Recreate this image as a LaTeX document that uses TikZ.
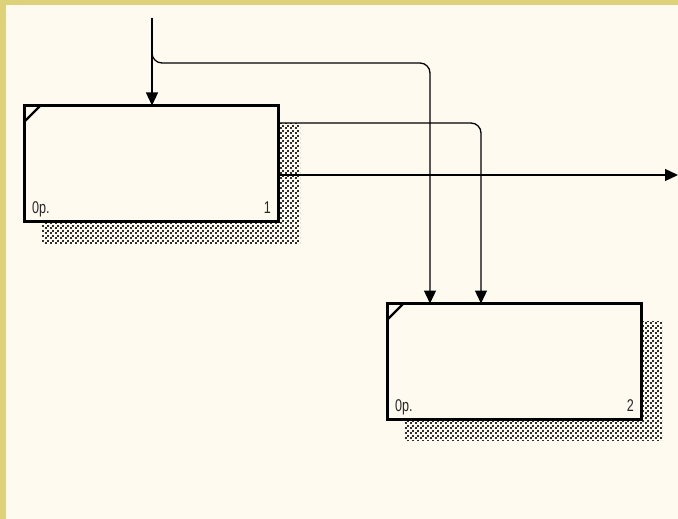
\documentclass[tikz,border=0pt]{standalone}
\usepackage{fontspec}
\setmainfont{Liberation Sans}
\usetikzlibrary{arrows.meta,patterns,calc}
\definecolor{frameyellow}{HTML}{DDD27A}
\definecolor{paper}{HTML}{FFFAF0}
\definecolor{shadowgray}{HTML}{2E2E2E}
% checkered dot texture for box shadows
\pgfdeclarepatternformonly{shadowdots}{\pgfpoint{0pt}{0pt}}{\pgfpoint{5pt}{5pt}}{\pgfpoint{5pt}{5pt}}{
  \pgfpathrectangle{\pgfpoint{0pt}{0pt}}{\pgfpoint{2.1pt}{2.1pt}}
  \pgfpathrectangle{\pgfpoint{2.5pt}{2.5pt}}{\pgfpoint{2.1pt}{2.1pt}}
  \pgfusepath{fill}
}
\tikzset{
  actbox/.style={draw=black, line width=2.8pt, fill=paper, minimum width=254pt,
    minimum height=116pt, inner sep=0pt, outer sep=0pt},
  boxshadow/.style={pattern=shadowdots, pattern color=shadowgray},
  flow/.style={draw=black, line width=1.3pt, rounded corners=10pt,
    -{Triangle[length=13pt,width=12pt]}},
  boxlabel/.style={font=\fontsize{17pt}{17pt}\selectfont, text=black!85, inner sep=0pt,
    anchor=base west, xscale=0.74},
}
\begin{document}
\begin{tikzpicture}[x=1pt,y=-1pt]
  % frame and sheet
  \fill[frameyellow] (0,0) rectangle (678,519);
  \fill[paper] (6,5) rectangle (678,519);
  \useasboundingbox (0,0) rectangle (678,519);

  % shadows
  \fill[boxshadow] (42,123) rectangle (300,243);
  \fill[boxshadow] (405,321) rectangle (662,440);

  % activity boxes
  \node[actbox] (b1) at (151.5,163.5) {};
  \node[actbox] (b2) at (514.5,361.5) {};

  % corner marks
  \draw[line width=2.2pt] ($(b1.north west)+(0,16)$) -- ($(b1.north west)+(16,0)$);
  \draw[line width=2.2pt] ($(b2.north west)+(0,16)$) -- ($(b2.north west)+(16,0)$);

  % labels
  \node[boxlabel] (c1) at (32,213.5) {0р.};
  \node[boxlabel, anchor=base east] (n1) at (271,213.5) {1};
  \node[boxlabel] (c2) at (395,411.5) {0р.};
  \node[boxlabel, anchor=base east] (n2) at (634,411.5) {2};

  % connectors
  \coordinate (src) at (152,18);
  \coordinate (split) at (152,52);
  \coordinate (out) at (678,175);
  \draw[flow] (src) -- (src |- b1.north);
  \draw[flow] (split) |- (430,63) -- (430,0 |- b2.north);
  \draw[flow] (b1.east |- 0,123) -| (481,0 |- b2.north);
  \draw[flow] (b1.east |- 0,175) -- (out);
\end{tikzpicture}
\end{document}
